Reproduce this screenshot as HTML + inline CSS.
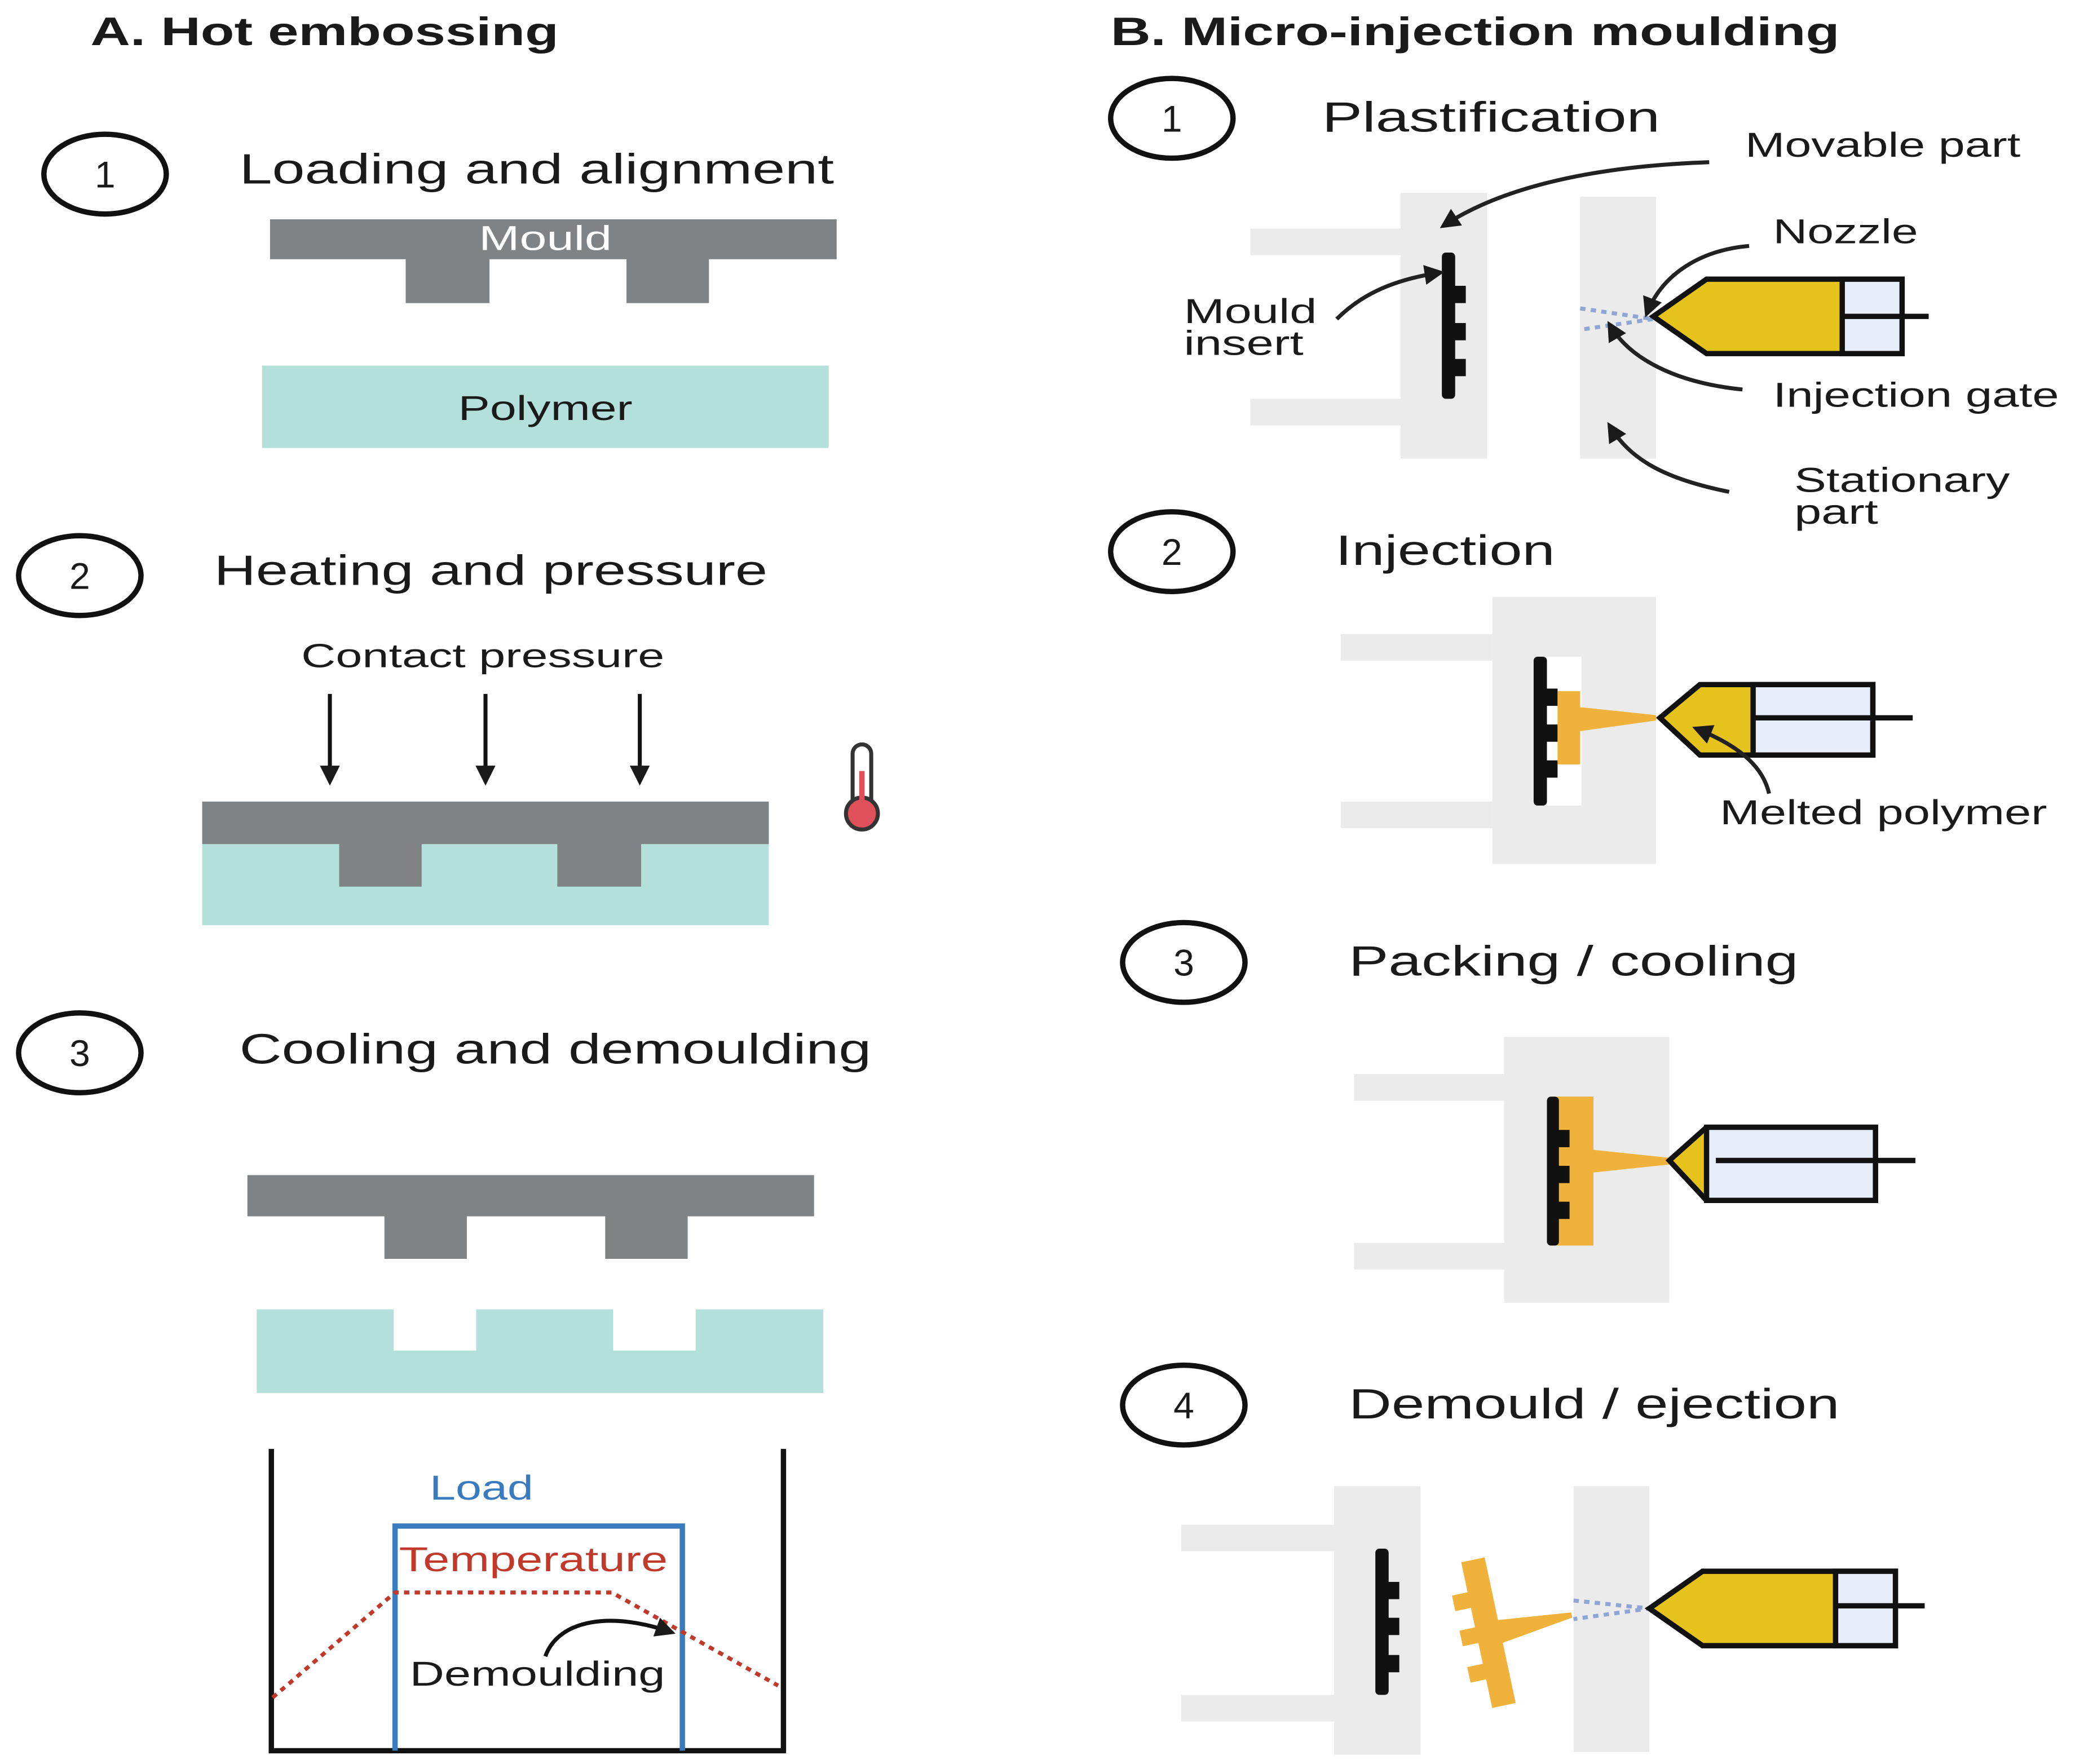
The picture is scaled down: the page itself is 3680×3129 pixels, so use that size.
<!DOCTYPE html>
<html><head><meta charset="utf-8"><style>
html,body{margin:0;padding:0;background:#fff;}
svg{display:block;}
text{font-family:"Liberation Sans","DejaVu Sans",sans-serif;fill:#1a1a1a;}
</style></head><body>
<svg width="3680" height="3129" viewBox="0 0 1560 1327" preserveAspectRatio="none" xmlns="http://www.w3.org/2000/svg">
<defs>
<marker id="ah" viewBox="0 0 10 10" refX="8" refY="5" markerWidth="5" markerHeight="5" orient="auto"><path d="M0,0 L10,5 L0,10 z" fill="#1a1a1a"/></marker>
</defs>
<rect width="1560" height="1327" fill="#fff"/>
<text x="68" y="34" font-size="30" font-weight="bold" textLength="352" lengthAdjust="spacingAndGlyphs">A. Hot embossing</text>
<text x="835" y="34" font-size="30" font-weight="bold" textLength="548" lengthAdjust="spacingAndGlyphs">B. Micro-injection moulding</text>

<!-- A1 -->
<ellipse cx="79" cy="131" rx="46" ry="30" fill="none" stroke="#111" stroke-width="4"/>
<text x="79" y="141" font-size="28" text-anchor="middle">1</text>
<text x="180" y="138" font-size="32" textLength="447" lengthAdjust="spacingAndGlyphs">Loading and alignment</text>
<rect x="203" y="165" width="426" height="30" fill="#7f8385"/>
<rect x="305" y="194" width="63" height="34" fill="#7f8385"/>
<rect x="471" y="194" width="62" height="34" fill="#7f8385"/>
<text x="410" y="188" font-size="26" text-anchor="middle" textLength="100" lengthAdjust="spacingAndGlyphs" style="fill:#fff">Mould</text>
<rect x="197" y="275" width="426" height="62" fill="#b3e0da"/>
<text x="410" y="316" font-size="26" text-anchor="middle" textLength="131" lengthAdjust="spacingAndGlyphs">Polymer</text>

<!-- A2 -->
<ellipse cx="60" cy="433" rx="46" ry="30" fill="none" stroke="#111" stroke-width="4"/>
<text x="60" y="443" font-size="28" text-anchor="middle">2</text>
<text x="161" y="440" font-size="32" textLength="416" lengthAdjust="spacingAndGlyphs">Heating and pressure</text>
<text x="363" y="502" font-size="25" text-anchor="middle" textLength="273" lengthAdjust="spacingAndGlyphs">Contact pressure</text>
<g stroke="#111" stroke-width="3" marker-end="url(#ah)">
<line x1="248" y1="522" x2="248" y2="588"/><line x1="365" y1="522" x2="365" y2="588"/><line x1="481" y1="522" x2="481" y2="588"/></g>
<rect x="152" y="635" width="426" height="61" fill="#b3e0da"/>
<rect x="152" y="603" width="426" height="32" fill="#7f8385"/>
<rect x="255" y="634" width="62" height="33" fill="#7f8385"/>
<rect x="419" y="634" width="63" height="33" fill="#7f8385"/>
<rect x="641" y="560" width="14" height="50" rx="7" fill="#fff" stroke="#333" stroke-width="3"/>
<circle cx="648" cy="612" r="12" fill="#e0505a" stroke="#333" stroke-width="3"/>
<rect x="646" y="580" width="4" height="30" fill="#e0505a"/>

<!-- A3 -->
<ellipse cx="60" cy="792" rx="46" ry="30" fill="none" stroke="#111" stroke-width="4"/>
<text x="60" y="802" font-size="28" text-anchor="middle">3</text>
<text x="180" y="800" font-size="32" textLength="475" lengthAdjust="spacingAndGlyphs">Cooling and demoulding</text>
<rect x="186" y="884" width="426" height="31" fill="#7f8385"/>
<rect x="289" y="914" width="62" height="33" fill="#7f8385"/>
<rect x="455" y="914" width="62" height="33" fill="#7f8385"/>
<rect x="193" y="985" width="426" height="63" fill="#b3e0da"/>
<rect x="296" y="985" width="62" height="31" fill="#fff"/>
<rect x="461" y="985" width="62" height="31" fill="#fff"/>
<polyline points="204,1090 204,1317 589,1317 589,1090" fill="none" stroke="#111" stroke-width="4"/>
<polyline points="297,1317 297,1148 513,1148 513,1317" fill="none" stroke="#3a7bbf" stroke-width="4"/>
<polyline points="205,1277 297,1198 460,1198 585,1268" fill="none" stroke="#c0392b" stroke-width="3" stroke-dasharray="4,4"/>
<text x="362" y="1128" font-size="26" text-anchor="middle" textLength="78" lengthAdjust="spacingAndGlyphs" style="fill:#3a7bbf">Load</text>
<text x="401" y="1182" font-size="26" text-anchor="middle" textLength="202" lengthAdjust="spacingAndGlyphs" style="fill:#c0392b">Temperature</text>
<text x="404" y="1268" font-size="26" text-anchor="middle" textLength="192" lengthAdjust="spacingAndGlyphs">Demoulding</text>
<path d="M410,1246 C420,1218 460,1212 505,1228" fill="none" stroke="#111" stroke-width="3" marker-end="url(#ah)"/>

<!-- B1 -->
<ellipse cx="881" cy="89" rx="46" ry="30" fill="none" stroke="#111" stroke-width="4"/>
<text x="881" y="99" font-size="28" text-anchor="middle">1</text>
<text x="994" y="99" font-size="32" textLength="254" lengthAdjust="spacingAndGlyphs">Plastification</text>
<g fill="#ebebeb">
<rect x="1053" y="145" width="65" height="200"/><rect x="940" y="172" width="113" height="20"/><rect x="940" y="300" width="113" height="20"/>
<rect x="1188" y="148" width="57" height="197"/></g>
<rect x="1084" y="190" width="10" height="110" rx="3" fill="#111"/>
<g fill="#111"><rect x="1093" y="215" width="9" height="13"/><rect x="1093" y="243" width="9" height="13"/><rect x="1093" y="270" width="9" height="13"/></g>
<path d="M1188,232 L1243,240 L1188,248" fill="none" stroke="#8ea5d6" stroke-width="3" stroke-dasharray="4,4"/>
<path d="M1243,238 L1283,210 L1430,210 L1430,266 L1283,266 Z" fill="#e6c21c" stroke="#111" stroke-width="4"/>
<rect x="1385" y="210" width="45" height="56" fill="#e8eef9" stroke="#111" stroke-width="4"/>
<line x1="1385" y1="238" x2="1450" y2="238" stroke="#111" stroke-width="4"/>
<text x="1312" y="118" font-size="26" textLength="207" lengthAdjust="spacingAndGlyphs">Movable part</text>
<text x="1333" y="183" font-size="26" textLength="109" lengthAdjust="spacingAndGlyphs">Nozzle</text>
<text x="890" y="243" font-size="26" textLength="100" lengthAdjust="spacingAndGlyphs">Mould</text>
<text x="890" y="267" font-size="26" textLength="90" lengthAdjust="spacingAndGlyphs">insert</text>
<text x="1333" y="306" font-size="26" textLength="215" lengthAdjust="spacingAndGlyphs">Injection gate</text>
<text x="1349" y="370" font-size="26" textLength="162" lengthAdjust="spacingAndGlyphs">Stationary</text>
<text x="1349" y="394" font-size="26" textLength="63" lengthAdjust="spacingAndGlyphs">part</text>
<g fill="none" stroke="#222" stroke-width="3" marker-end="url(#ah)">
<path d="M1285,122 C1200,125 1130,140 1085,170"/>
<path d="M1315,185 C1280,188 1250,205 1238,236"/>
<path d="M1005,240 C1025,220 1050,210 1083,205"/>
<path d="M1310,293 C1260,288 1225,270 1210,244"/>
<path d="M1300,370 C1250,360 1225,345 1210,320"/></g>

<!-- B2 -->
<ellipse cx="881" cy="415" rx="46" ry="30" fill="none" stroke="#111" stroke-width="4"/>
<text x="881" y="425" font-size="28" text-anchor="middle">2</text>
<text x="1004" y="425" font-size="32" textLength="165" lengthAdjust="spacingAndGlyphs">Injection</text>
<g fill="#ebebeb"><rect x="1122" y="449" width="123" height="201"/><rect x="1008" y="477" width="114" height="20"/><rect x="1008" y="603" width="114" height="20"/></g>
<rect x="1160" y="494" width="29" height="112" fill="#fff"/>
<rect x="1153" y="494" width="10" height="112" rx="3" fill="#111"/>
<g fill="#111"><rect x="1162" y="518" width="9" height="13"/><rect x="1162" y="545" width="9" height="13"/><rect x="1162" y="572" width="9" height="13"/></g>
<path d="M1171,520 L1188,520 L1188,532 L1245,538 L1245,542 L1188,550 L1188,575 L1171,575 Z" fill="#f0b23a"/>
<path d="M1248,540 L1278,515 L1408,515 L1408,568 L1278,568 Z" fill="#e6c21c" stroke="#111" stroke-width="4"/>
<rect x="1318" y="515" width="90" height="53" fill="#e8eef9" stroke="#111" stroke-width="4"/>
<line x1="1318" y1="540" x2="1438" y2="540" stroke="#111" stroke-width="4"/>
<path d="M1330,597 C1325,575 1305,560 1275,548" fill="none" stroke="#222" stroke-width="3" marker-end="url(#ah)"/>
<text x="1293" y="620" font-size="26" textLength="246" lengthAdjust="spacingAndGlyphs">Melted polymer</text>

<!-- B3 -->
<ellipse cx="890" cy="724" rx="46" ry="30" fill="none" stroke="#111" stroke-width="4"/>
<text x="890" y="734" font-size="28" text-anchor="middle">3</text>
<text x="1014" y="734" font-size="32" textLength="338" lengthAdjust="spacingAndGlyphs">Packing / cooling</text>
<g fill="#ebebeb"><rect x="1131" y="780" width="124" height="200"/><rect x="1018" y="808" width="113" height="20"/><rect x="1018" y="935" width="113" height="20"/></g>
<path d="M1170,825 L1198,825 L1198,865 L1255,871 L1255,876 L1198,882 L1198,937 L1170,937 Z" fill="#f0b23a"/>
<rect x="1163" y="825" width="9" height="112" rx="3" fill="#111"/>
<g fill="#111"><rect x="1171" y="850" width="9" height="13"/><rect x="1171" y="877" width="9" height="13"/><rect x="1171" y="904" width="9" height="13"/></g>
<path d="M1255,873 L1283,848 L1410,848 L1410,903 L1283,903 Z" fill="#e6c21c" stroke="#111" stroke-width="4"/>
<rect x="1283" y="848" width="127" height="55" fill="#e8eef9" stroke="#111" stroke-width="4"/>
<line x1="1290" y1="873" x2="1440" y2="873" stroke="#111" stroke-width="4"/>

<!-- B4 -->
<ellipse cx="890" cy="1057" rx="46" ry="30" fill="none" stroke="#111" stroke-width="4"/>
<text x="890" y="1067" font-size="28" text-anchor="middle">4</text>
<text x="1014" y="1067" font-size="32" textLength="369" lengthAdjust="spacingAndGlyphs">Demould / ejection</text>
<g fill="#ebebeb"><rect x="1003" y="1118" width="65" height="202"/><rect x="888" y="1147" width="115" height="20"/><rect x="888" y="1275" width="115" height="20"/>
<rect x="1183" y="1118" width="57" height="200"/></g>
<rect x="1034" y="1165" width="10" height="110" rx="3" fill="#111"/>
<g fill="#111"><rect x="1043" y="1190" width="9" height="13"/><rect x="1043" y="1217" width="9" height="13"/><rect x="1043" y="1245" width="9" height="13"/></g>
<g transform="rotate(-12 1120 1228)" fill="#f0b23a">
<rect x="1110" y="1172" width="18" height="112"/>
<rect x="1098" y="1195" width="14" height="12"/><rect x="1098" y="1222" width="14" height="12"/><rect x="1098" y="1250" width="14" height="12"/>
<path d="M1126,1220 L1183,1226 L1183,1230 L1126,1238 Z"/></g>
<path d="M1183,1204 L1240,1210 L1183,1218" fill="none" stroke="#8ea5d6" stroke-width="3" stroke-dasharray="4,4"/>
<path d="M1240,1210 L1280,1182 L1425,1182 L1425,1238 L1280,1238 Z" fill="#e6c21c" stroke="#111" stroke-width="4"/>
<rect x="1380" y="1182" width="45" height="56" fill="#e8eef9" stroke="#111" stroke-width="4"/>
<line x1="1380" y1="1208" x2="1447" y2="1208" stroke="#111" stroke-width="4"/>
</svg>
</body></html>
